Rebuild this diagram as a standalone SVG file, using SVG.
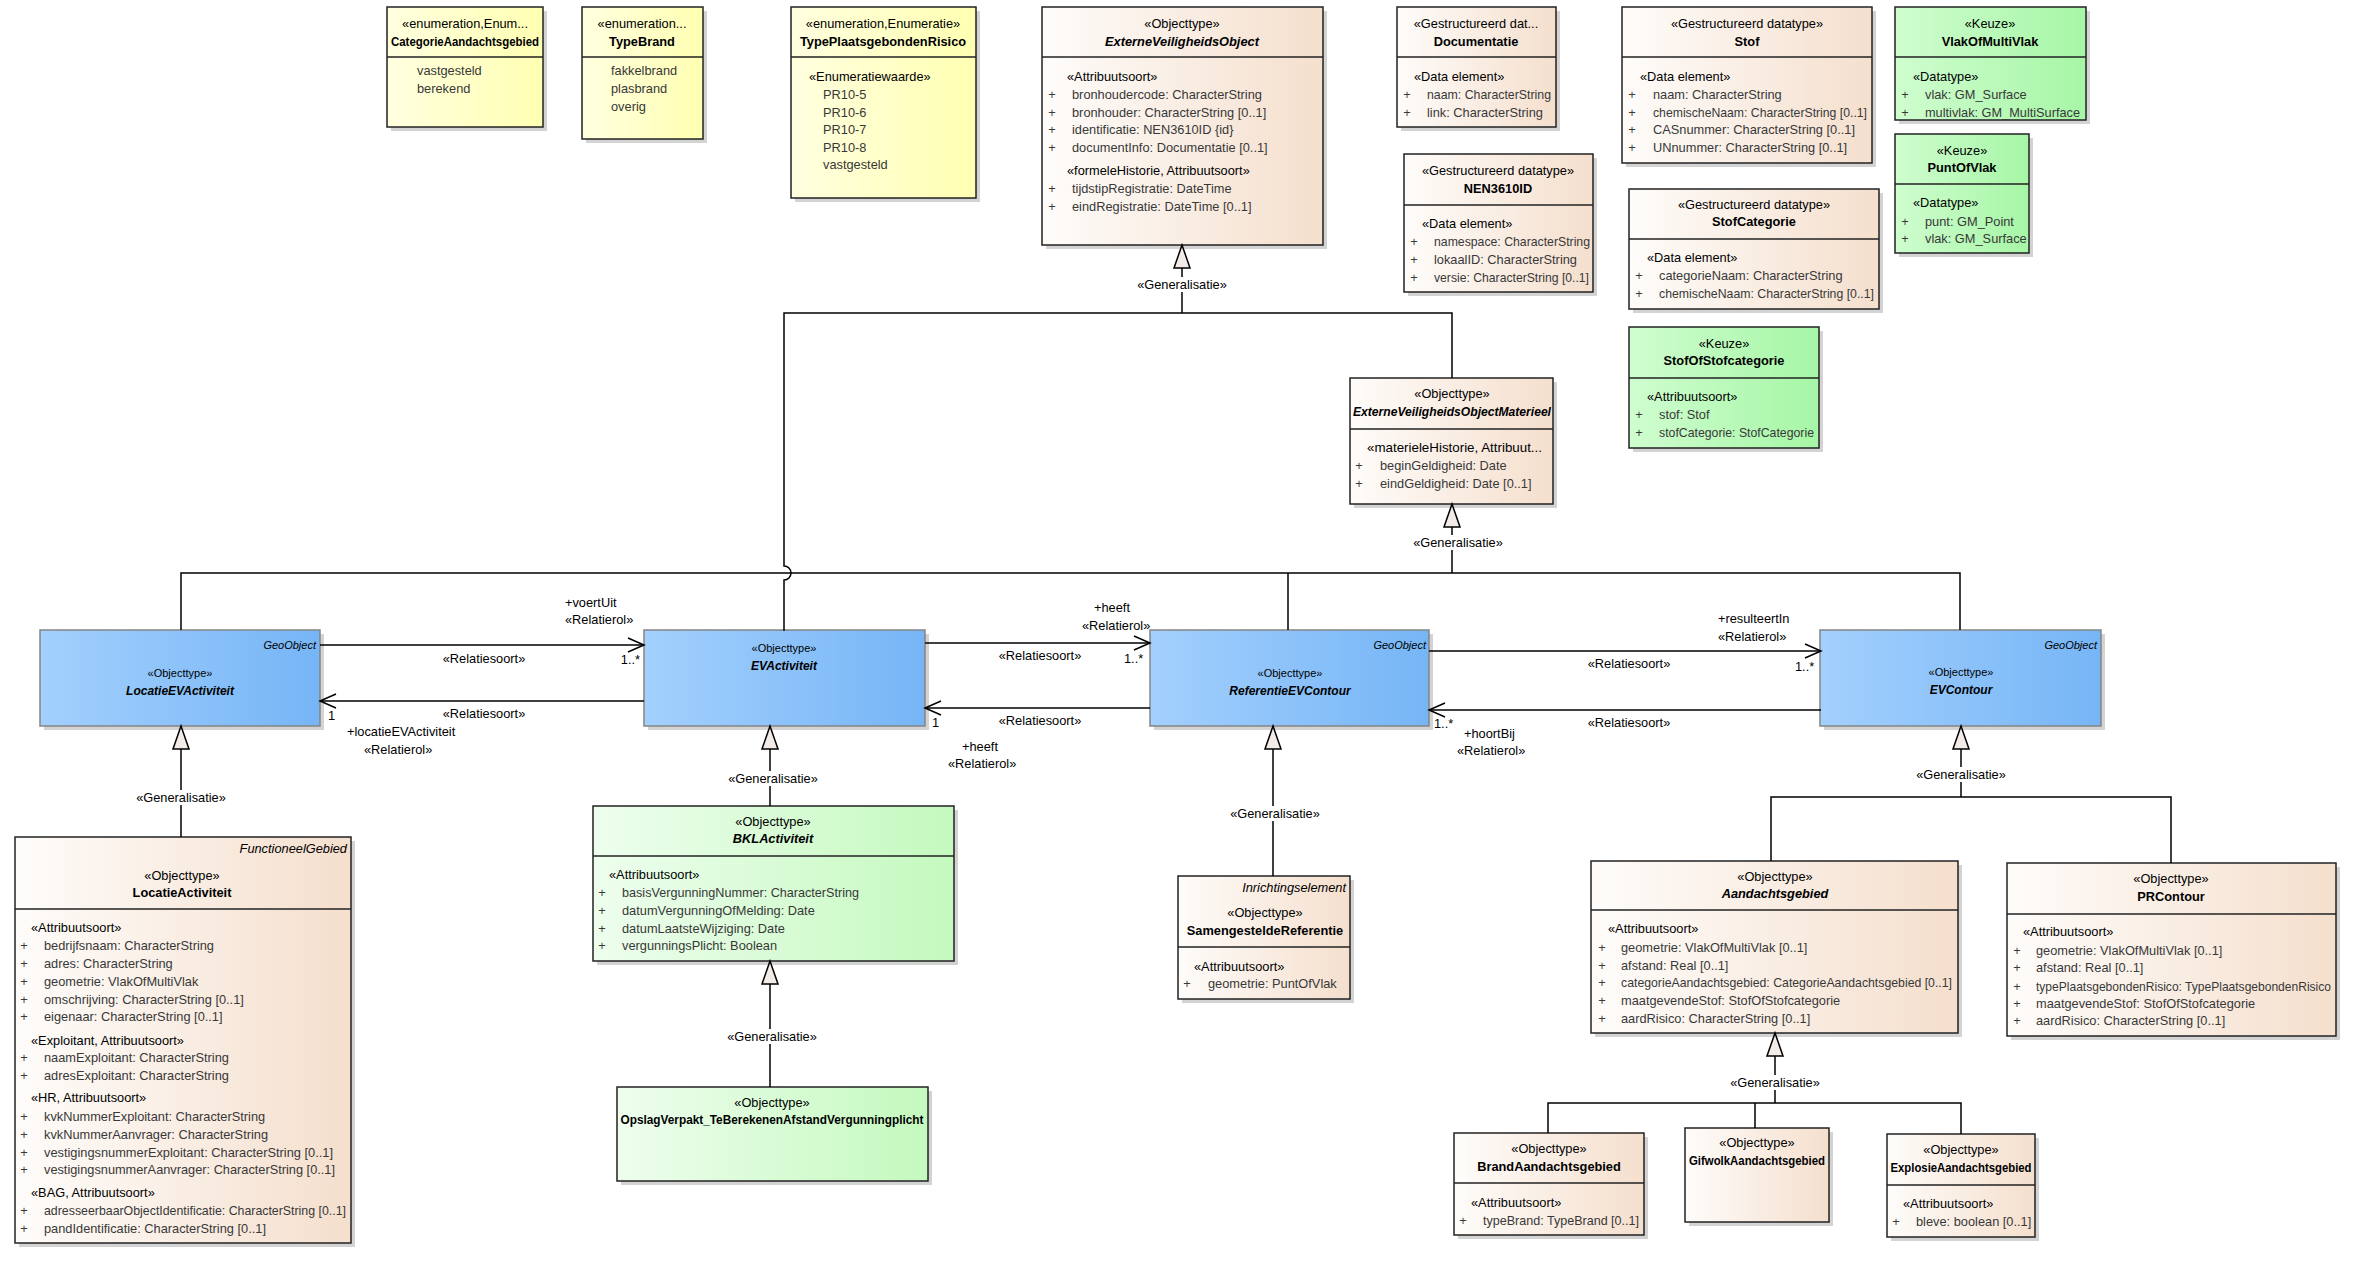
<svg xmlns="http://www.w3.org/2000/svg" width="2360" height="1262" viewBox="0 0 2360 1262">
<style>
text{font-family:"Liberation Sans",Arial,sans-serif;font-size:12.8px;fill:#000}
.c{text-anchor:middle}.r{text-anchor:end}.b{font-weight:bold}.i{font-style:italic}
.a{fill:#383838}
.sm{font-size:11px}.nm{font-size:12px}
.bx{stroke:#222;stroke-width:1.5}
.bb{stroke:#858585;stroke-width:1.5}
.sh{fill:#d3d3d3}
.dv{stroke:#222;stroke-width:1.5}
.ln{stroke:#000;stroke-width:1.5;fill:none}
.as{marker-end:url(#open)}
.ge{marker-end:url(#gen)}
.bg{fill:#fff}
</style>
<defs>
<linearGradient id="gY" x1="0" y1="0" x2="1" y2="0"><stop offset="0" stop-color="#ffffe0"/><stop offset="1" stop-color="#ffffb2"/></linearGradient>
<linearGradient id="gT" x1="0" y1="0" x2="1" y2="0"><stop offset="0" stop-color="#fefcfa"/><stop offset="1" stop-color="#f5dfcd"/></linearGradient>
<linearGradient id="gK" x1="0" y1="0" x2="1" y2="0"><stop offset="0" stop-color="#cffdcf"/><stop offset="1" stop-color="#a6f6a6"/></linearGradient>
<linearGradient id="gG" x1="0" y1="0" x2="1" y2="0"><stop offset="0" stop-color="#eefeee"/><stop offset="1" stop-color="#c4f9be"/></linearGradient>
<linearGradient id="gB" x1="0" y1="0" x2="1" y2="0"><stop offset="0" stop-color="#a3d0fd"/><stop offset="1" stop-color="#76b5f6"/></linearGradient>
<marker id="open" viewBox="0 0 16 16" refX="16" refY="8" markerWidth="16" markerHeight="16" orient="auto" markerUnits="userSpaceOnUse" overflow="visible"><path d="M0,1 L16,8 L0,15" fill="none" stroke="#000" stroke-width="1.5"/></marker>
<marker id="gen" viewBox="0 0 23 16" refX="23" refY="8" markerWidth="23" markerHeight="16" orient="auto" markerUnits="userSpaceOnUse" overflow="visible"><path d="M0,0 L23,8 L0,16 Z" fill="#f3ebe7" stroke="#000" stroke-width="1.5"/></marker>
</defs>
<rect width="2360" height="1262" fill="#fff"/>

<g id="n-categorieaandachtsgebied">
<rect class="sh" x="391" y="11" width="156" height="120"/>
<rect class="bx" x="387" y="7" width="156" height="120" fill="url(#gY)"/>
<line class="dv" x1="387" y1="57" x2="543" y2="57"/>
<text class="c" x="465" y="28">«enumeration,Enum...</text>
<text class="c b" x="465" y="46" textLength="148" lengthAdjust="spacingAndGlyphs">CategorieAandachtsgebied</text>
<text class="a" x="417" y="75">vastgesteld</text>
<text class="a" x="417" y="93">berekend</text>
</g>
<g id="n-typebrand">
<rect class="sh" x="586" y="11" width="121" height="132"/>
<rect class="bx" x="582" y="7" width="121" height="132" fill="url(#gY)"/>
<line class="dv" x1="582" y1="57" x2="703" y2="57"/>
<text class="c" x="642" y="28">«enumeration...</text>
<text class="c b" x="642" y="46">TypeBrand</text>
<text class="a" x="611" y="75">fakkelbrand</text>
<text class="a" x="611" y="93">plasbrand</text>
<text class="a" x="611" y="111">overig</text>
</g>
<g id="n-typeplaatsgebondenrisico">
<rect class="sh" x="795" y="11" width="185" height="191"/>
<rect class="bx" x="791" y="7" width="185" height="191" fill="url(#gY)"/>
<line class="dv" x1="791" y1="57" x2="976" y2="57"/>
<text class="c" x="883" y="28">«enumeration,Enumeratie»</text>
<text class="c b" x="883" y="46">TypePlaatsgebondenRisico</text>
<text x="809" y="81">«Enumeratiewaarde»</text>
<text class="a" x="823" y="99">PR10-5</text>
<text class="a" x="823" y="117">PR10-6</text>
<text class="a" x="823" y="134">PR10-7</text>
<text class="a" x="823" y="152">PR10-8</text>
<text class="a" x="823" y="169">vastgesteld</text>
</g>

<g id="n-externeveiligheidsobject">
<rect class="sh" x="1046" y="11" width="281" height="238"/>
<rect class="bx" x="1042" y="7" width="281" height="238" fill="url(#gT)"/>
<line class="dv" x1="1042" y1="57" x2="1323" y2="57"/>
<text class="c" x="1182" y="28">«Objecttype»</text>
<text class="c b i" x="1182" y="46">ExterneVeiligheidsObject</text>
<text x="1067" y="81">«Attribuutsoort»</text>
<text class="c a" x="1052" y="99">+</text><text class="a" x="1072" y="99">bronhoudercode: CharacterString</text>
<text class="c a" x="1052" y="117">+</text><text class="a" x="1072" y="117">bronhouder: CharacterString [0..1]</text>
<text class="c a" x="1052" y="134">+</text><text class="a" x="1072" y="134">identificatie: NEN3610ID {id}</text>
<text class="c a" x="1052" y="152">+</text><text class="a" x="1072" y="152">documentInfo: Documentatie [0..1]</text>
<text x="1067" y="175">«formeleHistorie, Attribuutsoort»</text>
<text class="c a" x="1052" y="193">+</text><text class="a" x="1072" y="193">tijdstipRegistratie: DateTime</text>
<text class="c a" x="1052" y="211">+</text><text class="a" x="1072" y="211">eindRegistratie: DateTime [0..1]</text>
</g>

<g id="n-documentatie">
<rect class="sh" x="1401" y="11" width="159" height="120"/>
<rect class="bx" x="1397" y="7" width="159" height="120" fill="url(#gT)"/>
<line class="dv" x1="1397" y1="57" x2="1556" y2="57"/>
<text class="c" x="1476" y="28">«Gestructureerd dat...</text>
<text class="c b" x="1476" y="46">Documentatie</text>
<text x="1414" y="81">«Data element»</text>
<text class="c a" x="1407" y="99">+</text><text class="a" x="1427" y="99" textLength="124" lengthAdjust="spacingAndGlyphs">naam: CharacterString</text>
<text class="c a" x="1407" y="117">+</text><text class="a" x="1427" y="117">link: CharacterString</text>
</g>

<g id="n-nen3610id">
<rect class="sh" x="1408" y="158" width="189" height="138"/>
<rect class="bx" x="1404" y="154" width="189" height="138" fill="url(#gT)"/>
<line class="dv" x1="1404" y1="205" x2="1593" y2="205"/>
<text class="c" x="1498" y="175">«Gestructureerd datatype»</text>
<text class="c b" x="1498" y="193">NEN3610ID</text>
<text x="1422" y="228">«Data element»</text>
<text class="c a" x="1414" y="246">+</text><text class="a" x="1434" y="246" textLength="156" lengthAdjust="spacingAndGlyphs">namespace: CharacterString</text>
<text class="c a" x="1414" y="264">+</text><text class="a" x="1434" y="264">lokaalID: CharacterString</text>
<text class="c a" x="1414" y="282">+</text><text class="a" x="1434" y="282" textLength="155" lengthAdjust="spacingAndGlyphs">versie: CharacterString [0..1]</text>
</g>

<g id="n-stof">
<rect class="sh" x="1626" y="11" width="250" height="156"/>
<rect class="bx" x="1622" y="7" width="250" height="156" fill="url(#gT)"/>
<line class="dv" x1="1622" y1="57" x2="1872" y2="57"/>
<text class="c" x="1747" y="28">«Gestructureerd datatype»</text>
<text class="c b" x="1747" y="46">Stof</text>
<text x="1640" y="81">«Data element»</text>
<text class="c a" x="1632" y="99">+</text><text class="a" x="1653" y="99">naam: CharacterString</text>
<text class="c a" x="1632" y="117">+</text><text class="a" x="1653" y="117" textLength="214" lengthAdjust="spacingAndGlyphs">chemischeNaam: CharacterString [0..1]</text>
<text class="c a" x="1632" y="134">+</text><text class="a" x="1653" y="134">CASnummer: CharacterString [0..1]</text>
<text class="c a" x="1632" y="152">+</text><text class="a" x="1653" y="152">UNnummer: CharacterString [0..1]</text>
</g>

<g id="n-stofcategorie">
<rect class="sh" x="1633" y="193" width="250" height="120"/>
<rect class="bx" x="1629" y="189" width="250" height="120" fill="url(#gT)"/>
<line class="dv" x1="1629" y1="239" x2="1879" y2="239"/>
<text class="c" x="1754" y="209">«Gestructureerd datatype»</text>
<text class="c b" x="1754" y="226">StofCategorie</text>
<text x="1647" y="262">«Data element»</text>
<text class="c a" x="1639" y="280">+</text><text class="a" x="1659" y="280">categorieNaam: CharacterString</text>
<text class="c a" x="1639" y="298">+</text><text class="a" x="1659" y="298" textLength="215" lengthAdjust="spacingAndGlyphs">chemischeNaam: CharacterString [0..1]</text>
</g>

<g id="n-vlakofmultivlak">
<rect class="sh" x="1899" y="11" width="191" height="113"/>
<rect class="bx" x="1895" y="7" width="191" height="113" fill="url(#gK)"/>
<line class="dv" x1="1895" y1="57" x2="2086" y2="57"/>
<text class="c" x="1990" y="28">«Keuze»</text>
<text class="c b" x="1990" y="46">VlakOfMultiVlak</text>
<text x="1913" y="81">«Datatype»</text>
<text class="c a" x="1905" y="99">+</text><text class="a" x="1925" y="99">vlak: GM_Surface</text>
<text class="c a" x="1905" y="117">+</text><text class="a" x="1925" y="117" textLength="155" lengthAdjust="spacingAndGlyphs">multivlak: GM_MultiSurface</text>
</g>

<g id="n-puntofvlak">
<rect class="sh" x="1899" y="138" width="134" height="119"/>
<rect class="bx" x="1895" y="134" width="134" height="119" fill="url(#gK)"/>
<line class="dv" x1="1895" y1="184" x2="2029" y2="184"/>
<text class="c" x="1962" y="155">«Keuze»</text>
<text class="c b" x="1962" y="172">PuntOfVlak</text>
<text x="1913" y="207">«Datatype»</text>
<text class="c a" x="1905" y="226">+</text><text class="a" x="1925" y="226">punt: GM_Point</text>
<text class="c a" x="1905" y="243">+</text><text class="a" x="1925" y="243">vlak: GM_Surface</text>
</g>

<g id="n-stofofstofcategorie">
<rect class="sh" x="1633" y="331" width="190" height="121"/>
<rect class="bx" x="1629" y="327" width="190" height="121" fill="url(#gK)"/>
<line class="dv" x1="1629" y1="378" x2="1819" y2="378"/>
<text class="c" x="1724" y="348">«Keuze»</text>
<text class="c b" x="1724" y="365">StofOfStofcategorie</text>
<text x="1647" y="401">«Attribuutsoort»</text>
<text class="c a" x="1639" y="419">+</text><text class="a" x="1659" y="419">stof: Stof</text>
<text class="c a" x="1639" y="437">+</text><text class="a" x="1659" y="437" textLength="155" lengthAdjust="spacingAndGlyphs">stofCategorie: StofCategorie</text>
</g>

<g id="n-externeveiligheidsobjectmaterieel">
<rect class="sh" x="1354" y="382" width="203" height="126"/>
<rect class="bx" x="1350" y="378" width="203" height="126" fill="url(#gT)"/>
<line class="dv" x1="1350" y1="429" x2="1553" y2="429"/>
<text class="c" x="1452" y="398">«Objecttype»</text>
<text class="c b i" x="1452" y="416" textLength="198" lengthAdjust="spacingAndGlyphs">ExterneVeiligheidsObjectMaterieel</text>
<text x="1367" y="452" textLength="175" lengthAdjust="spacingAndGlyphs">«materieleHistorie, Attribuut...</text>
<text class="c a" x="1359" y="470">+</text><text class="a" x="1380" y="470">beginGeldigheid: Date</text>
<text class="c a" x="1359" y="488">+</text><text class="a" x="1380" y="488">eindGeldigheid: Date [0..1]</text>
</g>

<g id="n-locatieevactiviteit">
<rect class="sh" x="44" y="634" width="280" height="96"/>
<rect class="bb" x="40" y="630" width="280" height="96" fill="url(#gB)"/>
<text class="r i sm" x="316" y="649">GeoObject</text>
<text class="c sm" x="180" y="677">«Objecttype»</text>
<text class="c b i nm" x="180" y="695">LocatieEVActiviteit</text>
</g>
<g id="n-evactiviteit">
<rect class="sh" x="648" y="634" width="281" height="96"/>
<rect class="bb" x="644" y="630" width="281" height="96" fill="url(#gB)"/>
<text class="c sm" x="784" y="652">«Objecttype»</text>
<text class="c b i nm" x="784" y="670">EVActiviteit</text>
</g>
<g id="n-referentieevcontour">
<rect class="sh" x="1154" y="634" width="279" height="96"/>
<rect class="bb" x="1150" y="630" width="279" height="96" fill="url(#gB)"/>
<text class="r i sm" x="1426" y="649">GeoObject</text>
<text class="c sm" x="1290" y="677">«Objecttype»</text>
<text class="c b i nm" x="1290" y="695">ReferentieEVContour</text>
</g>
<g id="n-evcontour">
<rect class="sh" x="1824" y="634" width="281" height="96"/>
<rect class="bb" x="1820" y="630" width="281" height="96" fill="url(#gB)"/>
<text class="r i sm" x="2097" y="649">GeoObject</text>
<text class="c sm" x="1961" y="676">«Objecttype»</text>
<text class="c b i nm" x="1961" y="694">EVContour</text>
</g>

<g id="n-locatieactiviteit">
<rect class="sh" x="19" y="841" width="336" height="406"/>
<rect class="bx" x="15" y="837" width="336" height="406" fill="url(#gT)"/>
<line class="dv" x1="15" y1="909" x2="351" y2="909"/>
<text class="r i" x="347" y="853">FunctioneelGebied</text>
<text class="c" x="182" y="880">«Objecttype»</text>
<text class="c b" x="182" y="897">LocatieActiviteit</text>
<text x="31" y="932">«Attribuutsoort»</text>
<text class="c a" x="24" y="950">+</text><text class="a" x="44" y="950">bedrijfsnaam: CharacterString</text>
<text class="c a" x="24" y="968">+</text><text class="a" x="44" y="968">adres: CharacterString</text>
<text class="c a" x="24" y="986">+</text><text class="a" x="44" y="986">geometrie: VlakOfMultiVlak</text>
<text class="c a" x="24" y="1004">+</text><text class="a" x="44" y="1004">omschrijving: CharacterString [0..1]</text>
<text class="c a" x="24" y="1021">+</text><text class="a" x="44" y="1021">eigenaar: CharacterString [0..1]</text>
<text x="31" y="1045">«Exploitant, Attribuutsoort»</text>
<text class="c a" x="24" y="1062">+</text><text class="a" x="44" y="1062">naamExploitant: CharacterString</text>
<text class="c a" x="24" y="1080">+</text><text class="a" x="44" y="1080">adresExploitant: CharacterString</text>
<text x="31" y="1102">«HR, Attribuutsoort»</text>
<text class="c a" x="24" y="1121">+</text><text class="a" x="44" y="1121">kvkNummerExploitant: CharacterString</text>
<text class="c a" x="24" y="1139">+</text><text class="a" x="44" y="1139">kvkNummerAanvrager: CharacterString</text>
<text class="c a" x="24" y="1157">+</text><text class="a" x="44" y="1157" textLength="289" lengthAdjust="spacingAndGlyphs">vestigingsnummerExploitant: CharacterString [0..1]</text>
<text class="c a" x="24" y="1174">+</text><text class="a" x="44" y="1174" textLength="291" lengthAdjust="spacingAndGlyphs">vestigingsnummerAanvrager: CharacterString [0..1]</text>
<text x="31" y="1197">«BAG, Attribuutsoort»</text>
<text class="c a" x="24" y="1215">+</text><text class="a" x="44" y="1215" textLength="302" lengthAdjust="spacingAndGlyphs">adresseerbaarObjectIdentificatie: CharacterString [0..1]</text>
<text class="c a" x="24" y="1233">+</text><text class="a" x="44" y="1233">pandIdentificatie: CharacterString [0..1]</text>
</g>

<g id="n-bklactiviteit">
<rect class="sh" x="597" y="810" width="361" height="155"/>
<rect class="bx" x="593" y="806" width="361" height="155" fill="url(#gG)"/>
<line class="dv" x1="593" y1="856" x2="954" y2="856"/>
<text class="c" x="773" y="826">«Objecttype»</text>
<text class="c b i" x="773" y="843">BKLActiviteit</text>
<text x="609" y="879">«Attribuutsoort»</text>
<text class="c a" x="602" y="897">+</text><text class="a" x="622" y="897" textLength="237" lengthAdjust="spacingAndGlyphs">basisVergunningNummer: CharacterString</text>
<text class="c a" x="602" y="915">+</text><text class="a" x="622" y="915">datumVergunningOfMelding: Date</text>
<text class="c a" x="602" y="933">+</text><text class="a" x="622" y="933">datumLaatsteWijziging: Date</text>
<text class="c a" x="602" y="950">+</text><text class="a" x="622" y="950">vergunningsPlicht: Boolean</text>
</g>

<g id="n-opslagverpakt">
<rect class="sh" x="621" y="1091" width="311" height="94"/>
<rect class="bx" x="617" y="1087" width="311" height="94" fill="url(#gG)"/>
<text class="c" x="772" y="1107">«Objecttype»</text>
<text class="c b" x="772" y="1124" textLength="303" lengthAdjust="spacingAndGlyphs">OpslagVerpakt_TeBerekenenAfstandVergunningplicht</text>
</g>

<g id="n-samengesteldereferentie">
<rect class="sh" x="1182" y="880" width="172" height="123"/>
<rect class="bx" x="1178" y="876" width="172" height="123" fill="url(#gT)"/>
<line class="dv" x1="1178" y1="947" x2="1350" y2="947"/>
<text class="r i" x="1346" y="892">Inrichtingselement</text>
<text class="c" x="1265" y="917">«Objecttype»</text>
<text class="c b" x="1265" y="935">SamengesteldeReferentie</text>
<text x="1194" y="971">«Attribuutsoort»</text>
<text class="c a" x="1187" y="988">+</text><text class="a" x="1208" y="988">geometrie: PuntOfVlak</text>
</g>

<g id="n-aandachtsgebied">
<rect class="sh" x="1595" y="865" width="367" height="172"/>
<rect class="bx" x="1591" y="861" width="367" height="172" fill="url(#gT)"/>
<line class="dv" x1="1591" y1="910" x2="1958" y2="910"/>
<text class="c" x="1775" y="881">«Objecttype»</text>
<text class="c b i" x="1775" y="898">Aandachtsgebied</text>
<text x="1608" y="933">«Attribuutsoort»</text>
<text class="c a" x="1602" y="952">+</text><text class="a" x="1621" y="952">geometrie: VlakOfMultiVlak [0..1]</text>
<text class="c a" x="1602" y="970">+</text><text class="a" x="1621" y="970">afstand: Real [0..1]</text>
<text class="c a" x="1602" y="987">+</text><text class="a" x="1621" y="987" textLength="331" lengthAdjust="spacingAndGlyphs">categorieAandachtsgebied: CategorieAandachtsgebied [0..1]</text>
<text class="c a" x="1602" y="1005">+</text><text class="a" x="1621" y="1005">maatgevendeStof: StofOfStofcategorie</text>
<text class="c a" x="1602" y="1023">+</text><text class="a" x="1621" y="1023">aardRisico: CharacterString [0..1]</text>
</g>

<g id="n-prcontour">
<rect class="sh" x="2011" y="867" width="329" height="173"/>
<rect class="bx" x="2007" y="863" width="329" height="173" fill="url(#gT)"/>
<line class="dv" x1="2007" y1="914" x2="2336" y2="914"/>
<text class="c" x="2171" y="883">«Objecttype»</text>
<text class="c b" x="2171" y="901">PRContour</text>
<text x="2023" y="936">«Attribuutsoort»</text>
<text class="c a" x="2017" y="955">+</text><text class="a" x="2036" y="955">geometrie: VlakOfMultiVlak [0..1]</text>
<text class="c a" x="2017" y="972">+</text><text class="a" x="2036" y="972">afstand: Real [0..1]</text>
<text class="c a" x="2017" y="991">+</text><text class="a" x="2036" y="991" textLength="295" lengthAdjust="spacingAndGlyphs">typePlaatsgebondenRisico: TypePlaatsgebondenRisico</text>
<text class="c a" x="2017" y="1008">+</text><text class="a" x="2036" y="1008">maatgevendeStof: StofOfStofcategorie</text>
<text class="c a" x="2017" y="1025">+</text><text class="a" x="2036" y="1025">aardRisico: CharacterString [0..1]</text>
</g>

<g id="n-brandaandachtsgebied">
<rect class="sh" x="1458" y="1137" width="190" height="102"/>
<rect class="bx" x="1454" y="1133" width="190" height="102" fill="url(#gT)"/>
<line class="dv" x1="1454" y1="1183" x2="1644" y2="1183"/>
<text class="c" x="1549" y="1153">«Objecttype»</text>
<text class="c b" x="1549" y="1171">BrandAandachtsgebied</text>
<text x="1471" y="1207">«Attribuutsoort»</text>
<text class="c a" x="1463" y="1225">+</text><text class="a" x="1483" y="1225" textLength="156" lengthAdjust="spacingAndGlyphs">typeBrand: TypeBrand [0..1]</text>
</g>

<g id="n-gifwolkaandachtsgebied">
<rect class="sh" x="1689" y="1132" width="144" height="94"/>
<rect class="bx" x="1685" y="1128" width="144" height="94" fill="url(#gT)"/>
<text class="c" x="1757" y="1147">«Objecttype»</text>
<text class="c b" x="1757" y="1165" textLength="136" lengthAdjust="spacingAndGlyphs">GifwolkAandachtsgebied</text>
</g>

<g id="n-explosieaandachtsgebied">
<rect class="sh" x="1891" y="1138" width="148" height="103"/>
<rect class="bx" x="1887" y="1134" width="148" height="103" fill="url(#gT)"/>
<line class="dv" x1="1887" y1="1185" x2="2035" y2="1185"/>
<text class="c" x="1961" y="1154">«Objecttype»</text>
<text class="c b" x="1961" y="1172" textLength="141" lengthAdjust="spacingAndGlyphs">ExplosieAandachtsgebied</text>
<text x="1903" y="1208">«Attribuutsoort»</text>
<text class="c a" x="1896" y="1226">+</text><text class="a" x="1916" y="1226">bleve: boolean [0..1]</text>
</g>

<g id="connectors">
<path class="ln" d="M784,631 V580 A7,7 0 0 0 784,566 V313 H1452 V378"/>
<path class="ln ge" d="M1182,313 V245"/>
<rect class="bg" x="1135" y="277" width="94" height="15"/>
<text class="c" x="1182" y="289">«Generalisatie»</text>
<path class="ln" d="M181,630 V573 H1960 V630 M1288,573 V630"/>
<path class="ln ge" d="M1452,573 V504"/>
<rect class="bg" x="1411" y="535" width="94" height="15"/>
<text class="c" x="1458" y="547">«Generalisatie»</text>
<path class="ln ge" d="M181,837 V726"/>
<rect class="bg" x="134" y="790" width="94" height="15"/>
<text class="c" x="181" y="802">«Generalisatie»</text>
<path class="ln ge" d="M770,806 V726"/>
<rect class="bg" x="726" y="771" width="94" height="15"/>
<text class="c" x="773" y="783">«Generalisatie»</text>
<path class="ln ge" d="M770,1087 V961"/>
<rect class="bg" x="725" y="1029" width="94" height="15"/>
<text class="c" x="772" y="1041">«Generalisatie»</text>
<path class="ln ge" d="M1273,876 V726"/>
<rect class="bg" x="1228" y="806" width="94" height="15"/>
<text class="c" x="1275" y="818">«Generalisatie»</text>
<path class="ln" d="M1771,861 V797 H2171 V863"/>
<path class="ln ge" d="M1961,797 V726"/>
<rect class="bg" x="1914" y="767" width="94" height="15"/>
<text class="c" x="1961" y="779">«Generalisatie»</text>
<path class="ln" d="M1548,1133 V1103 H1961 V1134 M1755,1103 V1128"/>
<path class="ln ge" d="M1775,1103 V1033"/>
<rect class="bg" x="1728" y="1075" width="94" height="15"/>
<text class="c" x="1775" y="1087">«Generalisatie»</text>

<path class="ln as" d="M320,645 H644"/>
<text x="565" y="607">+voertUit</text>
<text x="565" y="624">«Relatierol»</text>
<text class="c" x="484" y="663">«Relatiesoort»</text>
<text class="r" x="640" y="664">1..*</text>

<path class="ln as" d="M644,701 H320"/>
<text x="328" y="720">1</text>
<text class="c" x="484" y="718">«Relatiesoort»</text>
<text x="347" y="736">+locatieEVActiviteit</text>
<text x="364" y="754">«Relatierol»</text>

<path class="ln as" d="M925,643 H1150"/>
<text x="1094" y="612">+heeft</text>
<text x="1082" y="630">«Relatierol»</text>
<text class="c" x="1040" y="660">«Relatiesoort»</text>
<text x="1124" y="663">1..*</text>

<path class="ln as" d="M1150,708 H925"/>
<text x="932" y="727">1</text>
<text class="c" x="1040" y="725">«Relatiesoort»</text>
<text x="962" y="751">+heeft</text>
<text x="948" y="768">«Relatierol»</text>

<path class="ln as" d="M1429,651 H1821"/>
<text x="1718" y="623">+resulteertIn</text>
<text x="1718" y="641">«Relatierol»</text>
<text class="c" x="1629" y="668">«Relatiesoort»</text>
<text x="1795" y="671">1..*</text>

<path class="ln as" d="M1821,710 H1429"/>
<text x="1434" y="728">1..*</text>
<text class="c" x="1629" y="727">«Relatiesoort»</text>
<text x="1464" y="738">+hoortBij</text>
<text x="1457" y="755">«Relatierol»</text>
</g>
</svg>
